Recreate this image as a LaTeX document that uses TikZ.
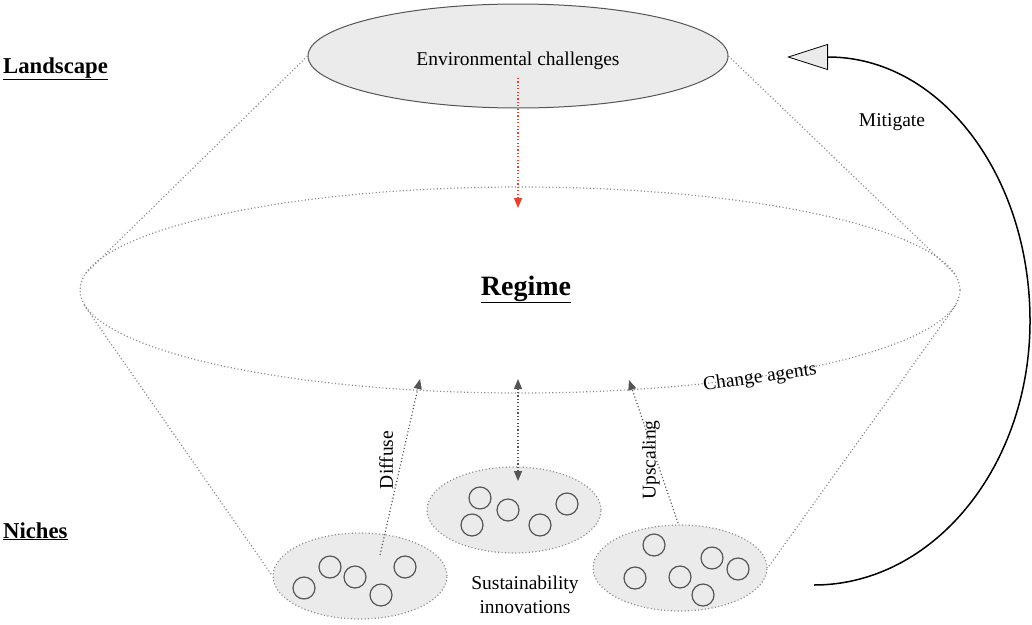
\documentclass[tikz,border=0pt]{standalone}
\usepackage{fontspec}
\setmainfont{Liberation Serif}
\usetikzlibrary{shapes.geometric,arrows.meta}
\definecolor{shade}{HTML}{EBEBEB}
\definecolor{dotgray}{HTML}{8C8C8C}
\definecolor{ringgray}{HTML}{555555}
\definecolor{arrowgray}{HTML}{555555}
\definecolor{alertred}{HTML}{E8412C}
\definecolor{rimgray}{HTML}{555555}

\begin{document}
\begin{tikzpicture}[x=1pt,y=-1pt,
  dots/.style={draw=dotgray,line width=1.2pt,dash pattern=on 1.1pt off 2.3pt},
  layer/.style={ellipse,inner sep=0pt},
  nichebox/.style={layer,fill=shade,dots,minimum width=174pt,minimum height=86pt},
  innov/.style={circle,draw=ringgray,line width=1.2pt,minimum size=22pt,inner sep=0pt},
  tipgray/.style={-{Triangle[length=10pt,width=8pt]}},
  flow/.style={draw=arrowgray,line width=1.2pt,dash pattern=on 1.1pt off 2.3pt},
  label/.style={font=\fontsize{19.5}{23.5}\selectfont,inner sep=0pt},
  level/.style={font=\fontsize{22.7}{26}\selectfont\bfseries,inner sep=0pt,anchor=base west}]

\useasboundingbox (0,0) rectangle (1032,624);

% three levels
\node[layer,fill=shade,draw=rimgray,line width=1pt,
      minimum width=420pt,minimum height=104pt] (land) at (518,56) {};
\node[layer,dots,minimum width=880pt,minimum height=206pt] (regime) at (520,290) {};
\node[nichebox] (nicheL) at (360,576) {};
\node[nichebox] (nicheM) at (514,510) {};
\node[nichebox] (nicheR) at (680,568) {};

% funnel outline
\draw[dots] (land.west) -- (regime.178);
\draw[dots] (land.east) -- (regime.2);
\draw[dots] (regime.182) -- (nicheL.west);
\draw[dots] (regime.358) -- (nicheR.east);

% innovations inside the niches
\node[innov] (a1) at (304,588) {};
\node[innov] (a2) at (330,567) {};
\node[innov] (a3) at (355,577) {};
\node[innov] (a4) at (381,595) {};
\node[innov] (a5) at (405,567) {};
\node[innov] (b1) at (480,498) {};
\node[innov] (b2) at (508,510) {};
\node[innov] (b3) at (472,525) {};
\node[innov] (b4) at (540,525) {};
\node[innov] (b5) at (567,504) {};
\node[innov] (c1) at (654,545) {};
\node[innov] (c2) at (635,578) {};
\node[innov] (c3) at (680,577) {};
\node[innov] (c4) at (712,558) {};
\node[innov] (c5) at (738,569) {};
\node[innov] (c6) at (703,595) {};

% texts
\node[label,anchor=base] (envtxt) at (518,65) {Environmental challenges};
\node[font=\fontsize{28}{32}\selectfont\bfseries,inner sep=0pt,anchor=base] (regtxt) at (526,295) {\underline{Regime}};
\node[level] (landtxt) at (3,73) {\underline{Landscape}};
\node[level] (nichetxt) at (3,538) {\underline{Niches}};
\node[label,align=center] (sustxt) at (525,595) {Sustainability\\innovations};
\node[label,rotate=8] (agents) at (760,378) {Change agents};
\node[label,rotate=90] (diffuse) at (386,460) {Diffuse};
\node[label,rotate=90] (upscale) at (651,460) {Upscaling};
\node[label,anchor=base] (mitigate) at (892,126) {Mitigate};

% flows between niches and regime
\coordinate (envS) at (518,78);
\coordinate (envE) at (518,208);
\coordinate (difS) at (380,555);
\coordinate (difE) at (420,379);
\coordinate (midT) at (518,379);
\coordinate (midB) at (518,481);
\coordinate (upsS) at (678,523);
\coordinate (upsE) at (629,380);
\draw[draw=alertred,line width=1.2pt,dash pattern=on 1.1pt off 2.3pt,
      -{Triangle[length=10pt,width=8pt,fill=alertred]}] (envS) -- (envE);
\draw[flow,tipgray] (difS) -- (difE);
\draw[flow,{Triangle[length=10pt,width=8pt]}-{Triangle[length=10pt,width=8pt]}] (midB) -- (midT);
\draw[flow,tipgray] (upsS) -- (upsE);

% mitigation feedback
\coordinate (mitS) at (814,585);
\coordinate (mitE) at (787,57);
\draw[black,line width=1.5pt,
      -{Triangle[length=41pt,width=26pt,fill=shade,line width=0.8pt]}]
  (mitS) .. controls (933,585) and (1030,467) .. (1030,321)
         .. controls (1030,175) and (940,57) .. (828,57) -- (mitE);
\end{tikzpicture}
\end{document}
